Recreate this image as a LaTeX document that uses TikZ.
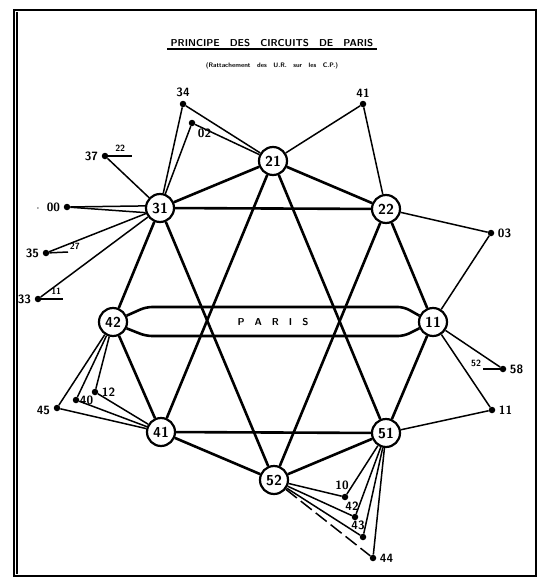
\documentclass[tikz,border=0pt]{standalone}
\usepackage{tikz}
\usetikzlibrary{positioning}
\usetikzlibrary{calc}

\begin{document}
\begin{tikzpicture}[x=1pt, y=-1pt, every node/.style={font=\sffamily\bfseries\large},
    hub/.style={circle, draw, line width=2.2pt, fill=white, minimum size=28pt, inner sep=0pt, font=\sffamily\bfseries\Large},
    ue/.style={circle, fill=black, inner sep=0pt, minimum size=6.5pt, label distance=1pt},
    trunk/.style={line width=2.6pt},
    link/.style={line width=1.5pt},
    renvoi/.style={font=\sffamily\bfseries\small}]

        \useasboundingbox (0,0) rectangle (546,581);
        \draw[line width=2.5pt] (14,10) rectangle (536,576);
        \draw[line width=1.5pt] (17,12) -- (17,574);

        % title
        \node (title) at (272,43) {\fontsize{10}{11}\selectfont PRINCIPE\quad DES\quad CIRCUITS\quad DE\quad PARIS};
        \draw[line width=1.8pt] ($(title.south west)+(0,-1)$) -- ($(title.south east)+(0,-1)$);
        \node (subtitle) at (272,66) {\fontsize{6.5}{7}\selectfont (Rattachement\quad des\quad U.R.\quad sur\quad les\quad C.P.)};

        % centres principaux
        \node[hub] (h21) at (273,161) {21};
        \node[hub] (h31) at (160,208) {31};
        \node[hub] (h22) at (386,209) {22};
        \node[hub] (h42) at (113,322) {42};
        \node[hub] (h11) at (433,322) {11};
        \node[hub] (h41) at (161,432) {41};
        \node[hub] (h51) at (386,433) {51};
        \node[hub] (h52) at (274,480) {52};

        \node[font=\sffamily\bfseries] (paris) at (273,322) {P\hspace{10pt}A\hspace{10pt}R\hspace{10pt}I\hspace{10pt}S};
        \coordinate (pnw) at (146,307);
        \coordinate (pne) at (404,307);
        \coordinate (psw) at (146,336);
        \coordinate (pse) at (404,336);

        % unites rattachees
        \node[ue, label=above:{34}] (d34) at (183,104) {};
        \node[ue, label=below right:{02}] (d02) at (192,123) {};
        \node[ue, label=above:{41}] (d41t) at (363,104) {};
        \node[ue, label=left:{37}] (d37) at (105,156) {};
        \node[ue, label=left:{$\cdot$\hspace{7pt}00}] (d00) at (67,207) {};
        \node[ue, label=left:{35}] (d35) at (46,253) {};
        \node[ue, label=left:{33}] (d33) at (38,299) {};
        \node[ue, label=right:{03}] (d03) at (491,233) {};
        \node[ue, label=right:{58}] (d58) at (503,369) {};
        \node[ue, label=right:{11}] (d11b) at (492,410) {};
        \node[ue, label=right:{12}] (d12) at (95,392) {};
        \node[ue, label={[xshift=-3pt]right:{40}}] (d40) at (76,400) {};
        \node[ue, label={[yshift=-2pt]left:{45}}] (d45) at (57,408) {};
        \node[ue, label={[xshift=-3pt]above:{10}}] (d10) at (345,497) {};
        \node[ue, label={[xshift=-3pt]above:{42}}] (d42b) at (355,517) {};
        \node[ue, label={[xshift=-5pt]above:{43}}] (d43) at (363,537) {};
        \node[ue, label=right:{44}] (d44) at (373,558) {};

        \coordinate (s37) at (132,156);
        \coordinate (s35) at (68,252);
        \coordinate (s33) at (63,299);
        \coordinate (s58) at (483,369);

        % hexagone et etoile
        \draw[trunk] (h21) -- (h31) -- (h42) -- (h41) -- (h52) -- (h51) -- (h11) -- (h22) -- (h21);
        \draw[trunk] (h31) -- (h22);
        \draw[trunk] (h41) -- (h51);
        \draw[trunk] (h21) -- (h41);
        \draw[trunk] (h21) -- (h51);
        \draw[trunk] (h31) -- (h52);
        \draw[trunk] (h22) -- (h52);

        \draw[trunk, rounded corners=6pt] (h42.25) -- (pnw) -- (pne) -- (h11.155);
        \draw[trunk, rounded corners=6pt] (h42.-25) -- (psw) -- (pse) -- (h11.-155);

        % raccordements
        \foreach \u in {d34,d02,d41t} {
          \draw[link] (h21) -- (\u);
        }
        \foreach \u in {d34,d02,d37,d35,d33} {
          \draw[link] (h31) -- (\u);
        }
        \draw[link] (d00) -- (h31.172);
        \draw[link] (d00) -- (h31.198);
        \draw[link] (h22) -- (d41t);
        \draw[link] (h22) -- (d03);
        \draw[link] (h11) -- (d03);
        \draw[link] (h11) -- (d58);
        \draw[link] (h11) -- (d11b);
        \draw[link] (h51) -- (d11b);
        \foreach \u in {d12,d40,d45} {
          \draw[link] (h42) -- (\u);
          \draw[link] (h41) -- (\u);
        }
        \foreach \u in {d10,d42b,d43,d44} {
          \draw[link] (h51) -- (\u);
        }
        \foreach \u in {d10,d42b,d43} {
          \draw[link] (h52) -- (\u);
        }
        \draw[link, dash pattern=on 14pt off 5pt] (h52) -- (d44);

        % renvois
        \draw[link] (d37) -- node[above, renvoi] {22} (s37);
        \draw[link] (d35) -- (s35) node[above right=-3pt, renvoi] {27};
        \draw[link] (d33) -- node[above, xshift=4pt, renvoi] {11} (s33);
        \draw[link] (d58) -- (s58) node[above left=-3pt, renvoi] {52};

\end{tikzpicture}
\end{document}
